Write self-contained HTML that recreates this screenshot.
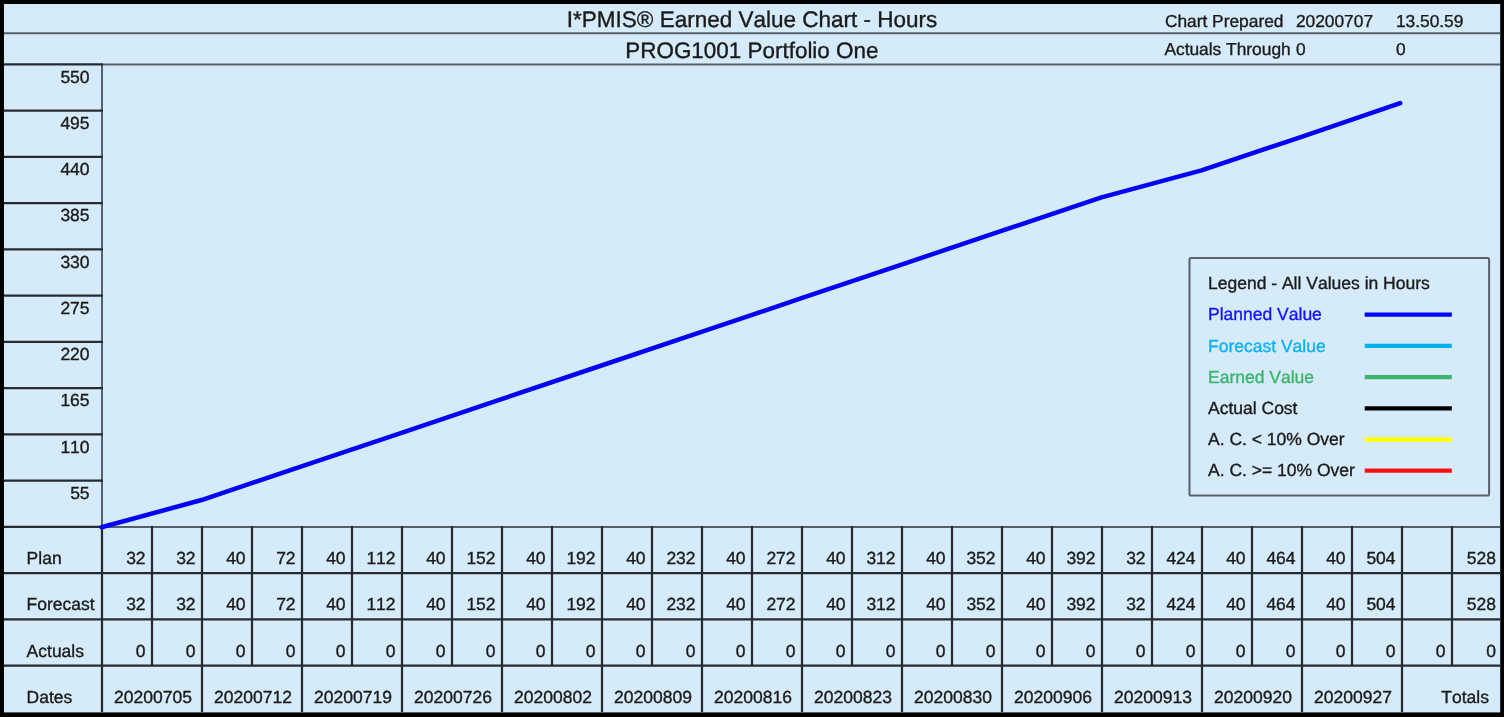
<!DOCTYPE html>
<html><head><meta charset="utf-8"><title>I*PMIS Earned Value Chart - Hours</title>
<style>html,body{margin:0;padding:0;background:#000;}body{width:1504px;height:717px;overflow:hidden;font-family:"Liberation Sans",sans-serif;}svg{display:block;will-change:transform;filter:blur(0.4px);}text{text-rendering:geometricPrecision;font-kerning:none;font-family:"Liberation Sans",sans-serif;fill:#1a1a1a;stroke:#1a1a1a;stroke-width:0.35px;}</style>
</head><body>
<svg width="1504" height="717" viewBox="0 0 1504 717">
<rect x="0" y="0" width="1504" height="717" fill="#000"/>
<rect x="4" y="4" width="1496.2" height="708.4" fill="#d6ebfa"/>
<g stroke="#566068" stroke-width="2" fill="none">
<line x1="4" y1="33.3" x2="1500" y2="33.3"/>
<line x1="102.0" y1="64.45" x2="1500" y2="64.45"/>
<line x1="102.0" y1="64.45" x2="102.0" y2="526.95"/>
<line x1="102.0" y1="526.95" x2="1500" y2="526.95"/>
</g>
<g stroke="#252b30" stroke-width="2.25" fill="none">
<line x1="4" y1="64.45" x2="103.00" y2="64.45"/>
<line x1="4" y1="110.70" x2="103.00" y2="110.70"/>
<line x1="4" y1="156.95" x2="103.00" y2="156.95"/>
<line x1="4" y1="203.20" x2="103.00" y2="203.20"/>
<line x1="4" y1="249.45" x2="103.00" y2="249.45"/>
<line x1="4" y1="295.70" x2="103.00" y2="295.70"/>
<line x1="4" y1="341.95" x2="103.00" y2="341.95"/>
<line x1="4" y1="388.20" x2="103.00" y2="388.20"/>
<line x1="4" y1="434.45" x2="103.00" y2="434.45"/>
<line x1="4" y1="480.70" x2="103.00" y2="480.70"/>
<line x1="4" y1="526.95" x2="103.00" y2="526.95"/>
<line x1="4" y1="573.20" x2="1500" y2="573.20"/>
<line x1="4" y1="619.45" x2="1500" y2="619.45"/>
<line x1="4" y1="665.70" x2="1500" y2="665.70"/>
<line x1="102.00" y1="525.95" x2="102.00" y2="711.95"/>
<line x1="152.00" y1="525.95" x2="152.00" y2="665.70"/>
<line x1="202.00" y1="525.95" x2="202.00" y2="711.95"/>
<line x1="252.00" y1="525.95" x2="252.00" y2="665.70"/>
<line x1="302.00" y1="525.95" x2="302.00" y2="711.95"/>
<line x1="352.00" y1="525.95" x2="352.00" y2="665.70"/>
<line x1="402.00" y1="525.95" x2="402.00" y2="711.95"/>
<line x1="452.00" y1="525.95" x2="452.00" y2="665.70"/>
<line x1="502.00" y1="525.95" x2="502.00" y2="711.95"/>
<line x1="552.00" y1="525.95" x2="552.00" y2="665.70"/>
<line x1="602.00" y1="525.95" x2="602.00" y2="711.95"/>
<line x1="652.00" y1="525.95" x2="652.00" y2="665.70"/>
<line x1="702.00" y1="525.95" x2="702.00" y2="711.95"/>
<line x1="752.00" y1="525.95" x2="752.00" y2="665.70"/>
<line x1="802.00" y1="525.95" x2="802.00" y2="711.95"/>
<line x1="852.00" y1="525.95" x2="852.00" y2="665.70"/>
<line x1="902.00" y1="525.95" x2="902.00" y2="711.95"/>
<line x1="952.00" y1="525.95" x2="952.00" y2="665.70"/>
<line x1="1002.00" y1="525.95" x2="1002.00" y2="711.95"/>
<line x1="1052.00" y1="525.95" x2="1052.00" y2="665.70"/>
<line x1="1102.00" y1="525.95" x2="1102.00" y2="711.95"/>
<line x1="1152.00" y1="525.95" x2="1152.00" y2="665.70"/>
<line x1="1202.00" y1="525.95" x2="1202.00" y2="711.95"/>
<line x1="1252.00" y1="525.95" x2="1252.00" y2="665.70"/>
<line x1="1302.00" y1="525.95" x2="1302.00" y2="711.95"/>
<line x1="1352.00" y1="525.95" x2="1352.00" y2="665.70"/>
<line x1="1402.00" y1="525.95" x2="1402.00" y2="711.95"/>
<line x1="1452.00" y1="525.95" x2="1452.00" y2="665.70"/>
</g>
<g font-size="17.5" text-anchor="end">
<text x="89.6" y="82.65">550</text>
<text x="89.6" y="128.90">495</text>
<text x="89.6" y="175.15">440</text>
<text x="89.6" y="221.40">385</text>
<text x="89.6" y="267.65">330</text>
<text x="89.6" y="313.90">275</text>
<text x="89.6" y="360.15">220</text>
<text x="89.6" y="406.40">165</text>
<text x="89.6" y="452.65">110</text>
<text x="89.6" y="498.90">55</text>
</g>
<g font-size="22.4" text-anchor="middle">
<text x="752.1" y="26.8" font-size="22.5">I*PMIS® Earned Value Chart - Hours</text>
<text x="751.9" y="57.6" font-size="22.45">PROG1001 Portfolio One</text>
</g>
<g font-size="17.35">
<text x="1164.9" y="26.6">Chart Prepared</text>
<text x="1295.9" y="26.6">20200707</text>
<text x="1395.9" y="26.6">13.50.59</text>
<text x="1164.4" y="55.4">Actuals Through</text>
<text x="1295.9" y="55.4">0</text>
<text x="1396.0" y="55.4">0</text>
</g>
<g font-size="17.5">
<text x="26.6" y="564.2">Plan</text>
<text x="26.6" y="610.4">Forecast</text>
<text x="26.6" y="656.5">Actuals</text>
<text x="26.6" y="702.6">Dates</text>
</g>
<g font-size="17.5" text-anchor="end">
<text x="145.60" y="564.2">32</text>
<text x="195.60" y="564.2">32</text>
<text x="245.60" y="564.2">40</text>
<text x="295.60" y="564.2">72</text>
<text x="345.60" y="564.2">40</text>
<text x="395.60" y="564.2">112</text>
<text x="445.60" y="564.2">40</text>
<text x="495.60" y="564.2">152</text>
<text x="545.60" y="564.2">40</text>
<text x="595.60" y="564.2">192</text>
<text x="645.60" y="564.2">40</text>
<text x="695.60" y="564.2">232</text>
<text x="745.60" y="564.2">40</text>
<text x="795.60" y="564.2">272</text>
<text x="845.60" y="564.2">40</text>
<text x="895.60" y="564.2">312</text>
<text x="945.60" y="564.2">40</text>
<text x="995.60" y="564.2">352</text>
<text x="1045.60" y="564.2">40</text>
<text x="1095.60" y="564.2">392</text>
<text x="1145.60" y="564.2">32</text>
<text x="1195.60" y="564.2">424</text>
<text x="1245.60" y="564.2">40</text>
<text x="1295.60" y="564.2">464</text>
<text x="1345.60" y="564.2">40</text>
<text x="1395.60" y="564.2">504</text>
<text x="1496.0" y="564.2">528</text>
<text x="145.60" y="610.4">32</text>
<text x="195.60" y="610.4">32</text>
<text x="245.60" y="610.4">40</text>
<text x="295.60" y="610.4">72</text>
<text x="345.60" y="610.4">40</text>
<text x="395.60" y="610.4">112</text>
<text x="445.60" y="610.4">40</text>
<text x="495.60" y="610.4">152</text>
<text x="545.60" y="610.4">40</text>
<text x="595.60" y="610.4">192</text>
<text x="645.60" y="610.4">40</text>
<text x="695.60" y="610.4">232</text>
<text x="745.60" y="610.4">40</text>
<text x="795.60" y="610.4">272</text>
<text x="845.60" y="610.4">40</text>
<text x="895.60" y="610.4">312</text>
<text x="945.60" y="610.4">40</text>
<text x="995.60" y="610.4">352</text>
<text x="1045.60" y="610.4">40</text>
<text x="1095.60" y="610.4">392</text>
<text x="1145.60" y="610.4">32</text>
<text x="1195.60" y="610.4">424</text>
<text x="1245.60" y="610.4">40</text>
<text x="1295.60" y="610.4">464</text>
<text x="1345.60" y="610.4">40</text>
<text x="1395.60" y="610.4">504</text>
<text x="1496.0" y="610.4">528</text>
<text x="145.60" y="656.5">0</text>
<text x="195.60" y="656.5">0</text>
<text x="245.60" y="656.5">0</text>
<text x="295.60" y="656.5">0</text>
<text x="345.60" y="656.5">0</text>
<text x="395.60" y="656.5">0</text>
<text x="445.60" y="656.5">0</text>
<text x="495.60" y="656.5">0</text>
<text x="545.60" y="656.5">0</text>
<text x="595.60" y="656.5">0</text>
<text x="645.60" y="656.5">0</text>
<text x="695.60" y="656.5">0</text>
<text x="745.60" y="656.5">0</text>
<text x="795.60" y="656.5">0</text>
<text x="845.60" y="656.5">0</text>
<text x="895.60" y="656.5">0</text>
<text x="945.60" y="656.5">0</text>
<text x="995.60" y="656.5">0</text>
<text x="1045.60" y="656.5">0</text>
<text x="1095.60" y="656.5">0</text>
<text x="1145.60" y="656.5">0</text>
<text x="1195.60" y="656.5">0</text>
<text x="1245.60" y="656.5">0</text>
<text x="1295.60" y="656.5">0</text>
<text x="1345.60" y="656.5">0</text>
<text x="1395.60" y="656.5">0</text>
<text x="1445.60" y="656.5">0</text>
<text x="1496.0" y="656.5">0</text>
<text x="1488.9" y="702.6">Totals</text>
</g>
<g font-size="17.5" text-anchor="middle">
<text x="153.00" y="702.6">20200705</text>
<text x="253.00" y="702.6">20200712</text>
<text x="353.00" y="702.6">20200719</text>
<text x="453.00" y="702.6">20200726</text>
<text x="553.00" y="702.6">20200802</text>
<text x="653.00" y="702.6">20200809</text>
<text x="753.00" y="702.6">20200816</text>
<text x="853.00" y="702.6">20200823</text>
<text x="953.00" y="702.6">20200830</text>
<text x="1053.00" y="702.6">20200906</text>
<text x="1153.00" y="702.6">20200913</text>
<text x="1253.00" y="702.6">20200920</text>
<text x="1353.00" y="702.6">20200927</text>
</g>
<polyline fill="none" stroke="#0303f6" stroke-width="4.5" stroke-linejoin="round" stroke-linecap="round" points="101.50,527.25 201.50,500.04 301.50,466.40 401.50,432.77 501.50,399.13 601.50,365.50 701.50,331.86 801.50,298.22 901.50,264.59 1001.50,230.95 1101.50,197.31 1201.50,170.40 1301.50,136.77 1400.20,103.13"/>
<rect x="1189.5" y="258.0" width="299.6" height="237.5" rx="1.5" fill="#d6ebfa" stroke="#59646c" stroke-width="2.1"/>
<g font-size="17.5">
<text x="1208.0" y="289.25" style="fill:#1a1a1a;stroke:#1a1a1a">Legend - All Values in Hours</text>
<text x="1208.0" y="320.38" style="fill:#1414ff;stroke:#1414ff">Planned Value</text>
<line x1="1364.7" y1="314.70" x2="1451.8" y2="314.70" stroke="#0000ff" stroke-width="4.3"/>
<text x="1208.0" y="351.51" style="fill:#12b0ee;stroke:#12b0ee">Forecast Value</text>
<line x1="1364.7" y1="345.90" x2="1451.8" y2="345.90" stroke="#00b0f0" stroke-width="4.3"/>
<text x="1208.0" y="382.64" style="fill:#3cb46e;stroke:#3cb46e">Earned Value</text>
<line x1="1364.7" y1="377.10" x2="1451.8" y2="377.10" stroke="#3cb46e" stroke-width="4.3"/>
<text x="1208.0" y="413.77" style="fill:#1a1a1a;stroke:#1a1a1a">Actual Cost</text>
<line x1="1364.7" y1="408.30" x2="1451.8" y2="408.30" stroke="#000000" stroke-width="4.3"/>
<text x="1208.0" y="444.90" style="fill:#1a1a1a;stroke:#1a1a1a">A. C. &lt; 10% Over</text>
<line x1="1364.7" y1="439.50" x2="1451.8" y2="439.50" stroke="#ffff00" stroke-width="4.3"/>
<text x="1208.0" y="476.03" style="fill:#1a1a1a;stroke:#1a1a1a">A. C. &gt;= 10% Over</text>
<line x1="1364.7" y1="470.70" x2="1451.8" y2="470.70" stroke="#ff1010" stroke-width="4.3"/>
</g>
</svg>
</body></html>
